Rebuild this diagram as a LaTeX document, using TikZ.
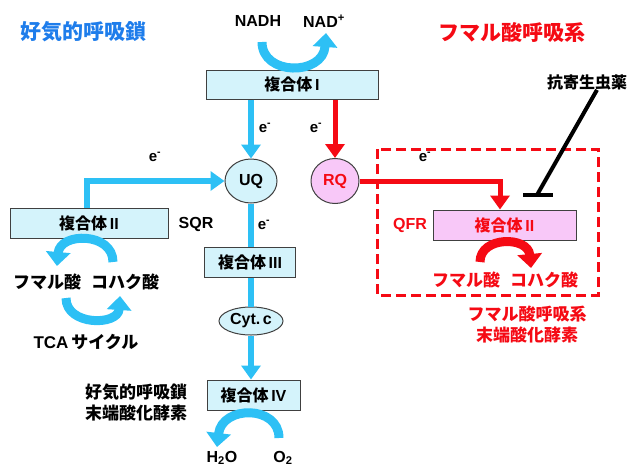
\documentclass[tikz,border=0pt]{standalone}
\usepackage{fontspec}
\setmainfont{Liberation Sans}
\newfontfamily\jp{Noto Sans CJK JP}
\usetikzlibrary{arrows.meta,shapes.geometric}
\definecolor{cblue}{RGB}{45,192,245}
\definecolor{tblue}{RGB}{30,125,235}
\definecolor{cred}{RGB}{245,10,20}
\definecolor{boxfill}{RGB}{212,243,251}
\definecolor{pinkfill}{RGB}{248,200,248}
\newcommand\RN[1]{{\normalfont\bfseries #1}}
\begin{document}
\begin{tikzpicture}[x=1pt,y=-1pt,
  lbl/.style={font=\bfseries\fontsize{16}{18}\selectfont, inner sep=0},
  elbl/.style={font=\bfseries\fontsize{15}{18}\selectfont, inner sep=0},
  jlbl/.style={font=\jp\bfseries\fontsize{17}{21}\selectfont, inner sep=0, align=center},
  cbox/.style={draw=black!75, line width=1pt, fill=boxfill, inner sep=0, font=\jp\bfseries\fontsize{16}{18}\selectfont},
  pbox/.style={cbox, fill=pinkfill, text=cred},
  bline/.style={cblue, line width=6pt},
  barrow/.style={bline, -{Triangle[length=14pt,width=19pt]}},
  rline/.style={cred, line width=5pt},
  rarrow/.style={rline, -{Triangle[length=14pt,width=19pt]}},
  carrow/.style={cblue, line width=9pt, -{Triangle[length=14pt,width=24pt]}},
  crarrow/.style={cred, line width=9pt, -{Triangle[length=14pt,width=24pt]}},
  ell/.style={ellipse, draw=black!75, line width=1pt, fill=boxfill, inner sep=0, font=\bfseries\fontsize{16}{18}\selectfont},
]
\useasboundingbox (0,0) rectangle (640,467);
% titles
\node[jlbl, text=tblue, font=\jp\bfseries\fontsize{21}{24}\selectfont] (tl) at (83,32) {好気的呼吸鎖};
\node[jlbl, text=cred, font=\jp\bfseries\fontsize{21}{24}\selectfont] (tr) at (512,32) {フマル酸呼吸系};
% NADH
\node[lbl] (nadh) at (258,21) {NADH};
\node[lbl] (nadp) at (324,21) {NAD\textsuperscript{+}};
\node[cbox, minimum width=172pt, minimum height=29pt] (c1) at (292,84.5) {複合体\,\RN{I}};
\coordinate (n1) at (262,42);
\coordinate (n2) at (326,33);
\draw[carrow] (n1) .. controls (262,76) and (323,76) .. (n2);
% UQ / RQ
\node[ell, minimum width=52pt, minimum height=44pt] (uq) at (251,181) {UQ};
\node[ell, fill=pinkfill, text=cred, minimum width=48pt, minimum height=45pt] (rq) at (335,181) {RQ};
\draw[barrow] (c1.south -| uq) -- (uq.north);
\draw[rarrow] (c1.south -| rq) -- (rq.north);
\node[elbl] (e1) at (265,128) {e\textsuperscript{-}};
\node[elbl] (e2) at (316,128) {e\textsuperscript{-}};
% complex II (left)
\node[cbox, minimum width=158pt, minimum height=30pt] (c2) at (89,223) {複合体\,\RN{II}};
\draw[barrow] ([xshift=-2pt]c2.north) |- (uq.west);
\node[elbl] (e3) at (155,157) {e\textsuperscript{-}};
\node[lbl] (sqr) at (196,224) {SQR};
% TCA
\coordinate (t1) at (113,262);
\coordinate (t2) at (57,266);
\draw[carrow] (t1) .. controls (113,232) and (60,232) .. (t2);
\node[jlbl] (fum1) at (47,282) {フマル酸};
\node[jlbl] (suc1) at (125,282) {コハク酸};
\coordinate (t3) at (66,298);
\coordinate (t4) at (120,296);
\draw[carrow] (t3) .. controls (66,326) and (118,326) .. (t4);
\node[lbl, font=\bfseries\fontsize{17}{20}\selectfont] (tca) at (86,342) {TCA\,{\jp サイクル}};
% complex III, cyt c, IV
\node[cbox, minimum width=91pt, minimum height=30pt] (c3) at (250,262) {複合体\,\RN{III}};
\draw[bline] (uq.south) -- (uq.south |- c3.north);
\node[elbl] (e4) at (264,225) {e\textsuperscript{-}};
\node[ell, minimum width=64pt, minimum height=28pt] (cyt) at (251,321) {Cyt.\,c};
\draw[bline] (c3.south -| cyt) -- (cyt.north);
\node[cbox, minimum width=93pt, minimum height=30pt] (c4) at (253.5,395) {複合体\,\RN{IV}};
\draw[barrow] (cyt.south) -- (cyt.south |- c4.north);
\coordinate (o1) at (279,438);
\coordinate (o2) at (217,447);
\draw[carrow] (o1) .. controls (279,405) and (222,405) .. (o2);
\node[lbl] (h2o) at (222,458) {H\textsubscript{2}O};
\node[lbl] (o2l) at (283,458) {O\textsubscript{2}};
\node[jlbl] (aero) at (136,402) {好気的呼吸鎖\\末端酸化酵素};
% fumarate respiration
\draw[cred, line width=3pt, dash pattern=on 10pt off 5pt] (377,149) rectangle (598,295);
\node[pbox, minimum width=143pt, minimum height=30pt] (q2) at (504.5,225) {複合体\,\RN{II}};
\draw[rarrow] (rq.east) -| ([xshift=-4.5pt]q2.north);
\node[elbl] (e5) at (425,157) {e\textsuperscript{-}};
\node[lbl, text=cred] (qfr) at (410,225) {QFR};
\coordinate (r1) at (480,262);
\coordinate (r2) at (531,268);
\draw[crarrow] (r1) .. controls (480,236) and (528,236) .. (r2);
\node[jlbl, text=cred] (fum2) at (466,280) {フマル酸};
\node[jlbl, text=cred] (suc2) at (544,280) {コハク酸};
\node[jlbl, text=cred] (fterm) at (527,324) {フマル酸呼吸系\\末端酸化酵素};
% drug
\node[jlbl, font=\jp\bfseries\fontsize{16}{19}\selectfont] (drug) at (587,82) {抗寄生虫薬};
\coordinate (tb) at (537,195);
\draw[line width=4pt] ([xshift=10pt]drug.south) -- (tb);
\draw[line width=4pt] ([xshift=-14pt]tb) -- ([xshift=16pt]tb);
\end{tikzpicture}
\end{document}
